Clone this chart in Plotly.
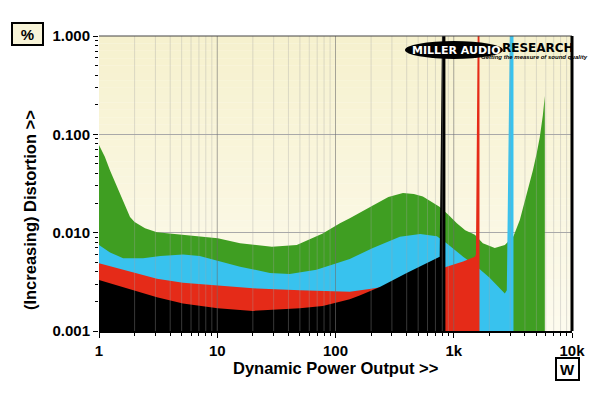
import math
import plotly.graph_objects as go

# ---------------- data (W, %THD+N) ----------------
green_power = [1, 1.12, 1.24, 1.5, 1.83, 2.0, 2.45, 3.09, 5.13, 8.19, 10.1, 15.6, 29, 47, 78, 109, 132,
               207, 280, 372, 460, 548, 763, 900, 1062, 1250, 1508, 1762, 2223, 2703, 3000, 3200,
               3625, 4150, 4667, 5040, 5345, 5665, 5890]
green_dist = [0.078, 0.059, 0.043, 0.025, 0.0144, 0.0128, 0.0111, 0.0101, 0.0095, 0.0091, 0.0088, 0.0078,
              0.0072, 0.0075, 0.0098, 0.0125, 0.0140, 0.0189, 0.0230, 0.0253, 0.0247, 0.0233, 0.0182,
              0.0152, 0.0125, 0.0106, 0.0095, 0.0078, 0.0070, 0.0075, 0.0085, 0.0092, 0.0135, 0.025,
              0.043, 0.065, 0.094, 0.155, 0.245]

blue_power = [1, 1.24, 1.6, 2.36, 3.3, 5.13, 7.1, 10.1, 15.6, 27.9, 41, 69, 109, 132, 207, 350, 520,
              720, 870, 1200, 1508, 2000, 2703, 2810, 3000, 3200]
blue_dist = [0.0075, 0.0063, 0.0055, 0.0055, 0.0058, 0.0060, 0.0058, 0.0052, 0.0045, 0.0039, 0.0038,
             0.0042, 0.0050, 0.0054, 0.0070, 0.0091, 0.0097, 0.0092, 0.0078, 0.0057, 0.0047, 0.0035,
             0.0024, 0.0026, 2.0, 2.0]

red_power = [1, 1.6, 3.09, 5.13, 10.1, 21.6, 50, 132, 207, 300, 500, 700, 870, 1200, 1508, 1540,
             1600, 1650]
red_dist = [0.0049, 0.0042, 0.0034, 0.0031, 0.0029, 0.0027, 0.0026, 0.0025, 0.0027, 0.0029, 0.0034,
            0.0040, 0.0045, 0.0051, 0.0057, 0.0060, 2.0, 2.0]

black_power = [1, 1.94, 3.09, 5.13, 10.1, 20, 50, 78, 109, 132, 160, 237, 400, 590, 760, 800, 850]
black_dist = [0.0033, 0.0026, 0.0022, 0.0019, 0.0017, 0.0016, 0.0017, 0.0018, 0.0020, 0.0021, 0.0023,
              0.0028, 0.0039, 0.0049, 0.0057, 2.0, 2.0]

series = [
    ("green", green_power, green_dist, "#3f9e22"),
    ("blue", blue_power, blue_dist, "#38c2ee"),
    ("red", red_power, red_dist, "#e52b18"),
    ("black", black_power, black_dist, "#000000"),
]

x_tickvals = [1, 10, 100, 1000, 10000]
x_ticktext = ["1", "10", "100", "1k", "10k"]
y_tickvals = [0.001, 0.01, 0.1, 1]
y_ticktext = ["0.001", "0.010", "0.100", "1.000"]
x_range_log = [0, 4]
y_range_log = [-3, 0]

decades_x = [1, 10, 100, 1000]
decades_y = [0.001, 0.01, 0.1]
minor_digits = [2, 3, 4, 5, 6, 7, 8, 9]
x_minor = [d * m for d in decades_x for m in minor_digits]
y_minor = [d * m for d in decades_y for m in minor_digits]

FONT = "Liberation Sans, Arial, sans-serif"
LOGO_FONT = "DejaVu Sans, Liberation Sans, sans-serif"

fig = go.Figure()
for name, p, d, c in series:
    fig.add_trace(go.Scatter(x=p, y=d, name=name, mode="lines",
                             line=dict(width=0, color=c), fill="tozeroy",
                             fillcolor=c, hoverinfo="skip", showlegend=False))

shapes = []
# background gradient
N = 40
top = (246, 241, 206)
bot = (253, 251, 238)
for i in range(N):
    t = i / (N - 1)
    col = tuple(round(top[k] + (bot[k] - top[k]) * t) for k in range(3))
    shapes.append(dict(type="rect", xref="paper", yref="paper", x0=0, x1=1,
                       y0=1 - (i + 1) / N, y1=1 - i / N, layer="below",
                       line=dict(width=0), fillcolor="rgb(%d,%d,%d)" % col))

# vertical grid lines (drawn over the fills)
span = x_range_log[1] - x_range_log[0]
for v in x_minor + x_tickvals[1:-1]:
    major = v in x_tickvals
    xp = (math.log10(v) - x_range_log[0]) / span
    shapes.append(dict(type="line", xref="paper", yref="paper", x0=xp, x1=xp, y0=0, y1=1,
                       layer="above",
                       line=dict(width=1, color="rgba(110,110,110,0.6)" if major else "rgba(165,165,165,0.34)")))

# frame
shapes.append(dict(type="line", xref="paper", yref="paper", x0=0, x1=1, y0=1, y1=1,
                   line=dict(width=1, color="#444444"), layer="above"))
shapes.append(dict(type="line", xref="paper", yref="paper", x0=1, x1=1, y0=0, y1=1,
                   line=dict(width=3, color="black"), layer="above"))

# logo ellipse
shapes.append(dict(type="circle", xref="paper", yref="paper", x0=0.647, x1=0.854, y0=0.922, y1=0.983,
                   fillcolor="black", line=dict(width=0), layer="above"))

annotations = [
    dict(text="<b>%</b>", xref="paper", yref="paper", x=-0.152, y=1.0068, showarrow=False,
         font=dict(family=FONT, size=15, color="black"), bgcolor="#f8f4d8",
         bordercolor="black", borderwidth=2, width=27, height=18, xanchor="center", yanchor="middle"),
    dict(text="<b>W</b>", xref="paper", yref="paper", x=0.9915, y=-0.1288, showarrow=False,
         font=dict(family=FONT, size=15, color="black"), bgcolor="white",
         bordercolor="black", borderwidth=2, width=19, height=18, xanchor="center", yanchor="middle"),
    dict(text="<b>(Increasing) Distortion &gt;&gt;</b>", xref="paper", yref="paper", x=-0.1459, y=0.41,
         textangle=-90, showarrow=False, font=dict(family=FONT, size=16.5, color="black"),
         xanchor="center", yanchor="middle"),
    dict(text="<b>Dynamic Power Output &gt;&gt;</b>", xref="paper", yref="paper", x=0.501, y=-0.1254,
         showarrow=False, font=dict(family=FONT, size=16.5, color="black"),
         xanchor="center", yanchor="middle"),
    dict(text="<b>MILLER AUDIO</b>", xref="paper", yref="paper", x=0.7548, y=0.9525, showarrow=False,
         font=dict(family=LOGO_FONT, size=11, color="white"), xanchor="center", yanchor="middle"),
    dict(text="<b>RESEARCH</b>", xref="paper", yref="paper", x=0.9285, y=0.959, showarrow=False,
         font=dict(family=LOGO_FONT, size=12, color="black"), xanchor="center", yanchor="middle"),
    dict(text="<b><i>Getting the measure of sound quality</i></b>", xref="paper", yref="paper",
         x=0.9197, y=0.9305, showarrow=False, font=dict(family=FONT, size=6, color="black"),
         xanchor="center", yanchor="middle"),
]

fig.update_layout(
    width=600, height=398,
    margin=dict(l=99, r=28, t=36, b=67, autoexpand=False),
    paper_bgcolor="white", plot_bgcolor="rgb(253,251,238)",
    shapes=shapes, annotations=annotations, showlegend=False,
    xaxis=dict(type="log", range=x_range_log, tickvals=x_tickvals, ticktext=x_ticktext,
               ticks="outside", ticklen=5, tickwidth=1, tickcolor="black",
               tickfont=dict(family=FONT, size=15, color="black", weight="bold"),
               showgrid=False, zeroline=False, showline=True, linecolor="black", linewidth=2,
               minor=dict(tickvals=x_minor, ticks="outside", ticklen=3, tickcolor="black", showgrid=False)),
    yaxis=dict(type="log", range=y_range_log, tickvals=y_tickvals, ticktext=y_ticktext,
               ticks="outside", ticklen=5, tickwidth=1, tickcolor="black",
               tickfont=dict(family=FONT, size=15, color="black", weight="bold"),
               showgrid=True, gridcolor="#a9a9a9", gridwidth=1, zeroline=False, showline=False,
               minor=dict(tickvals=y_minor, ticks="outside", ticklen=3, tickcolor="black", showgrid=False)),
)

fig.write_html("out.html", config={"displayModeBar": False},
               post_script="document.body.style.margin='0';")
